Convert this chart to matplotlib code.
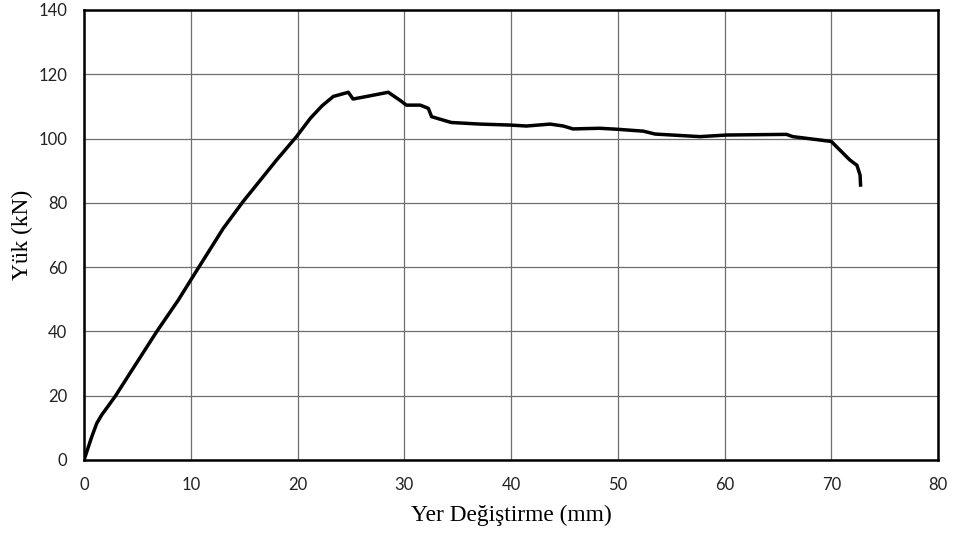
import matplotlib
matplotlib.use("Agg")
import matplotlib.pyplot as plt

# Load-displacement curve
displacement = [0.0, 0.3, 0.7, 1.19, 1.65, 2.9, 4.5, 6.8, 8.84, 10.0, 13.05, 14.9, 18.03, 19.9,
                21.2, 22.3, 23.35, 24.76, 25.2, 26.0, 27.1, 28.5, 29.6, 30.2, 31.5, 32.25,
                32.56, 34.4, 37.1, 39.9, 41.45, 43.65, 44.9, 45.8, 48.3, 49.9, 52.4, 53.5,
                57.7, 60.2, 65.8, 66.4, 70.0, 71.75, 72.4, 72.7, 72.75]
load = [0.0, 3.0, 7.0, 11.4, 14.0, 19.7, 28.0, 39.9, 49.8, 56.0, 72.1, 80.4, 93.3, 100.6,
        106.3, 110.2, 113.1, 114.4, 112.3, 112.8, 113.5, 114.4, 111.9, 110.4, 110.4, 109.4,
        106.8, 105.0, 104.5, 104.2, 103.9, 104.5, 103.9, 103.0, 103.2, 102.9, 102.3, 101.4,
        100.6, 101.1, 101.3, 100.6, 99.1, 93.3, 91.7, 88.6, 85.0]

x_ticks = list(range(0, 81, 10))
y_ticks = list(range(0, 141, 20))

fig = plt.figure(figsize=(9.56, 5.34), dpi=100)
ax = fig.add_axes([0.0879, 0.1386, 0.8933, 0.8427])

ax.plot(displacement, load, color="black", linewidth=2.5, solid_capstyle="butt")

ax.set_xlim(0, 80)
ax.set_ylim(0, 140)
ax.set_xticks(x_ticks)
ax.set_yticks(y_ticks)
ax.grid(True, color="#6e6e6e", linewidth=0.9)
ax.set_axisbelow(True)
for s in ax.spines.values():
    s.set_color("black")
    s.set_linewidth(1.8)
ax.tick_params(axis="x", length=0, pad=12, labelsize=12, colors="#222222")
ax.tick_params(axis="y", length=0, pad=12, labelsize=12, colors="#222222")
for lab in ax.get_xticklabels() + ax.get_yticklabels():
    lab.set_family("Lato")

ax.set_xlabel("Yer Değiştirme (mm)", family="Liberation Serif", fontsize=16.8, labelpad=9)
ax.set_ylabel("Yük (kN)", family="Liberation Serif", fontsize=16.8, labelpad=4)

fig.savefig("out.png", dpi=100)
